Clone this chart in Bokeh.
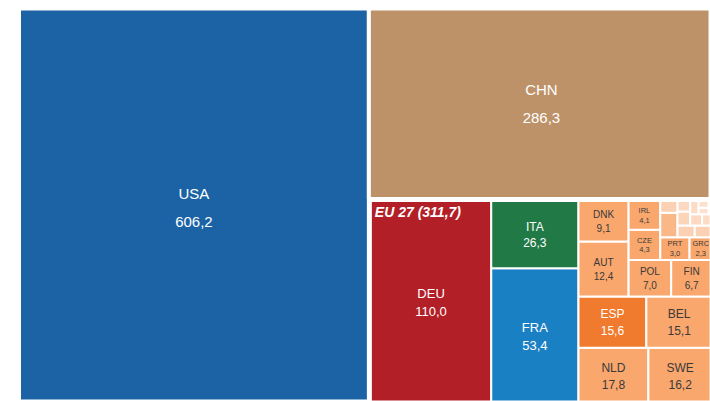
from bokeh.plotting import figure
from bokeh.models import ColumnDataSource, Range1d
from bokeh.embed import file_html
from bokeh.resources import INLINE
from bokeh.core.properties import value

# ---------------- data ----------------
top_names = ["USA", "EU 27", "CHN"]
top_values = [606.2, 311.7, 286.3]
top_colors = ["#1b63a5", None, "#be9268"]

eu_names = ["DEU", "FRA", "ITA", "NLD", "SWE", "ESP", "BEL", "AUT", "DNK", "POL",
            "FIN", "CZE", "IRL", "PRT", "GRC", "HUN", "ROU", "SVK", "SVN", "LUX",
            "BGR", "HRV", "LTU", "EST", "LVA", "CYP", "MLT"]
eu_values = [110.0, 53.4, 26.3, 17.8, 16.2, 15.6, 15.1, 12.4, 9.1, 7.0,
             6.7, 4.3, 4.1, 3.0, 2.3, 1.9, 0.9, 0.9, 0.9, 0.8,
             0.6, 0.6, 0.5, 0.5, 0.3, 0.3, 0.2]
eu_highlight = {"DEU": "#b31f26", "FRA": "#1a80c4", "ITA": "#217a45", "ESP": "#f07a2d"}
eu_default_color = "#f9a76d"

# ---------------- squarified layout ----------------
def normalize(vals, dx, dy):
    tot = float(sum(vals))
    return [v * dx * dy / tot for v in vals]

def layout_row(sizes, x, y, dx, dy):
    w = sum(sizes) / dy
    out = []
    for s in sizes:
        out.append((x, y, w, s / w))
        y += s / w
    return out

def layout_col(sizes, x, y, dx, dy):
    h = sum(sizes) / dx
    out = []
    for s in sizes:
        out.append((x, y, s / h, h))
        x += s / h
    return out

def layout(sizes, x, y, dx, dy):
    return layout_row(sizes, x, y, dx, dy) if dx >= dy else layout_col(sizes, x, y, dx, dy)

def leftover(sizes, x, y, dx, dy):
    a = sum(sizes)
    if dx >= dy:
        w = a / dy
        return x + w, y, dx - w, dy
    h = a / dx
    return x, y + h, dx, dy - h

def worst(sizes, x, y, dx, dy):
    return max(max(r[2] / r[3], r[3] / r[2]) for r in layout(sizes, x, y, dx, dy))

def squarify(sizes, x, y, dx, dy):
    if not sizes:
        return []
    if len(sizes) == 1:
        return layout(sizes, x, y, dx, dy)
    i = 1
    while i < len(sizes) and worst(sizes[:i], x, y, dx, dy) >= worst(sizes[:i + 1], x, y, dx, dy):
        i += 1
    cur, rem = sizes[:i], sizes[i:]
    lx, ly, ldx, ldy = leftover(cur, x, y, dx, dy)
    return layout(cur, x, y, dx, dy) + squarify(rem, lx, ly, ldx, ldy)

W, H = 695.0, 398.0
PW, PH = 710, 401
top_rects = squarify(normalize(top_values, W, H), 0.0, 0.0, W, H)

fmt = lambda v: f"{v:.1f}".replace(".", ",")

outer = dict(x=[], y=[], dx=[], dy=[], color=[])
labels = dict(x=[], y=[], name=[], val=[], size=[], off1=[], off2=[], tcolor=[])

def add_label(r, name, v, light):
    cx, cy = r[0] + r[2] / 2, r[1] + r[3] / 2
    if v >= 200:
        fs, gap = 15, 28
    elif v >= 50:
        fs, gap = 13, 18
    elif v >= 15:
        fs, gap = 12, 16
    elif v >= 6:
        fs, gap = 10, 13
    elif v >= 2:
        fs, gap = 7.5, 9.5
    else:
        return
    labels["x"].append(cx)
    labels["y"].append(cy)
    labels["name"].append(name)
    labels["val"].append(fmt(v))
    labels["size"].append(f"{fs}px")
    labels["off1"].append(-gap / 2)
    labels["off2"].append(gap / 2)
    labels["tcolor"].append("#3a3a3a" if light else "white")

eu_rect = None
eu_total = None
for name, v, c, r in zip(top_names, top_values, top_colors, top_rects):
    if c is None:
        eu_rect, eu_total = r, v
        continue
    outer["x"].append(r[0]); outer["y"].append(r[1])
    outer["dx"].append(r[2]); outer["dy"].append(r[3])
    outer["color"].append(c)
    add_label(r, name, v, False)

pad = 2.0
ex, ey, edx, edy = eu_rect[0] + pad, eu_rect[1] + pad, eu_rect[2] - 2 * pad, eu_rect[3] - 2 * pad
eu_rects = squarify(normalize(eu_values, edx, edy), ex, ey, edx, edy)
inner = dict(x=[], y=[], dx=[], dy=[], color=[], alpha=[])
for name, v, r in zip(eu_names, eu_values, eu_rects):
    inner["x"].append(r[0]); inner["y"].append(r[1])
    inner["dx"].append(r[2]); inner["dy"].append(r[3])
    inner["color"].append(eu_highlight.get(name, eu_default_color))
    inner["alpha"].append(1.0 if v >= 2 else 0.25 + 0.3 * v)
    add_label(r, name, v, name not in eu_highlight)

# ---------------- figure ----------------
p = figure(width=PW, height=PH, output_backend="svg", toolbar_location=None,
           x_axis_location=None, y_axis_location=None,
           x_range=Range1d(-18.5, PW - 18.5), y_range=Range1d(H + 8 - PH, H + 8),
           min_border=0)
p.outline_line_color = None
p.grid.visible = False
p.background_fill_color = "white"

p.block(x="x", y="y", width="dx", height="dy", source=ColumnDataSource(outer),
        fill_color="color", line_color="white", line_width=4)
p.block(x="x", y="y", width="dx", height="dy", source=ColumnDataSource(inner),
        fill_color="color", fill_alpha="alpha", line_color="white", line_width=2)

lsrc = ColumnDataSource(labels)
p.text(x="x", y="y", text="name", source=lsrc, text_align="center", text_baseline="middle",
       text_font=value("Liberation Sans"), text_font_size="size", text_color="tcolor",
       y_offset="off1")
p.text(x="x", y="y", text="val", source=lsrc, text_align="center", text_baseline="middle",
       text_font=value("Liberation Sans"), text_font_size="size", text_color="tcolor",
       y_offset="off2")

eu_src = ColumnDataSource(dict(x=[eu_rect[0]], y=[eu_rect[1] + eu_rect[3]],
                               t=[f"{top_names[1]} ({fmt(eu_total)})"]))
p.text(x="x", y="y", text="t", source=eu_src, text_align="left", text_baseline="top",
       text_font=value("Liberation Sans"), text_font_size="14px", text_font_style="bold italic",
       text_color="white", x_offset=6, y_offset=5)

open("out.html", "w").write(file_html(p, INLINE))
